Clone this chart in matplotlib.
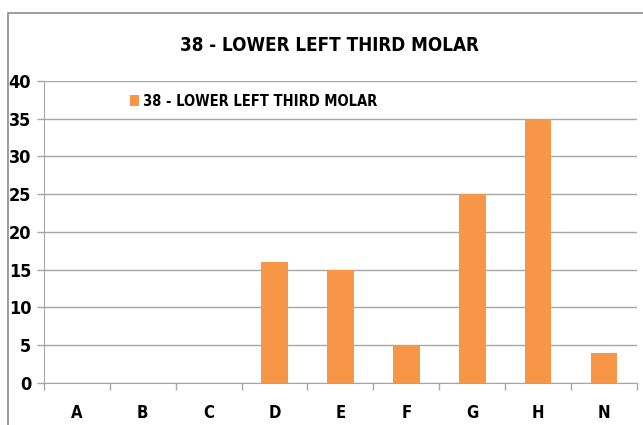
import matplotlib
matplotlib.use("Agg")
import matplotlib.pyplot as plt
import numpy as np
from matplotlib.patches import Rectangle

# data
categories = ["A", "B", "C", "D", "E", "F", "G", "H", "N"]
values = [0, 0, 0, 16, 15, 5, 25, 35, 4]
series_name = "38 - LOWER LEFT THIRD MOLAR"

bar_color = "#F79646"
grid_color = "#A6A6A6"

plt.rcParams["font.family"] = ["DejaVu Sans"]
plt.rcParams["font.stretch"] = "condensed"
plt.rcParams["font.weight"] = "bold"

fig = plt.figure(figsize=(6.43, 4.25), dpi=100)
ax = fig.add_axes([0.068, 0.099, 0.923, 0.711])

x = np.arange(len(categories))
ax.bar(x, values, width=0.4, color=bar_color, label=series_name, zorder=3)

ax.set_xlim(-0.5, len(categories) - 0.5)
ax.set_ylim(0, 40)
ax.set_yticks(np.arange(0, 41, 5))
ax.grid(axis="y", color=grid_color, linewidth=1, zorder=0)

# labels at centres, tick marks at the category boundaries
ax.set_xticks(x)
ax.set_xticklabels(categories)
ax.set_xticks(np.arange(-0.5, len(categories)), minor=True)
ax.tick_params(axis="x", which="major", length=0, pad=15, labelsize=12)
ax.tick_params(axis="x", which="minor", length=5, color=grid_color, width=1)
ax.tick_params(axis="y", length=5, color=grid_color, width=1, labelsize=13, pad=4)

for s in ["top", "right"]:
    ax.spines[s].set_visible(False)
for s in ["left", "bottom"]:
    ax.spines[s].set_color(grid_color)

fig.text(0.512, 0.893, series_name, ha="center", va="center", fontsize=13.5, fontweight="bold")

ax.legend(loc="upper left", bbox_to_anchor=(0.123, 1.0), frameon=False, fontsize=10.5,
          handlelength=0.6, handleheight=0.8, handletextpad=0.3)

# outer chart frame (cut off at right and bottom)
fig.patches.append(Rectangle((8 / 643, -0.1), 1.2, (425 - 13) / 425 + 0.1,
                             transform=fig.transFigure, fill=False,
                             edgecolor="#8C8C8C", linewidth=1.2, clip_on=False))

fig.savefig("out.png", dpi=100)
